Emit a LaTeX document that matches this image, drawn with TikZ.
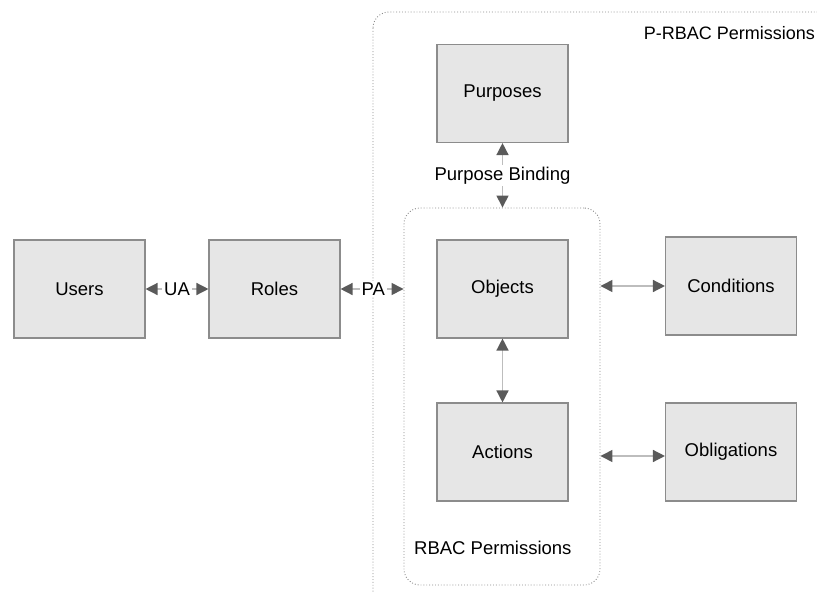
\documentclass[tikz,border=0pt]{standalone}
\usepackage{fontspec}
\setmainfont{Liberation Sans}
\usetikzlibrary{arrows.meta}
\definecolor{boxfill}{HTML}{E6E6E6}
\definecolor{boxline}{HTML}{8C8C8C}
\definecolor{headcol}{HTML}{5A5A5A}
\definecolor{shaftcol}{HTML}{BDBDBD}
\definecolor{frameline}{HTML}{8A8A8A}
\tikzset{
  entity/.style={draw=boxline, fill=boxfill, line width=1.1pt,
    minimum width=131pt, minimum height=98pt, inner sep=0pt,
    font=\fontsize{18.5}{22}\selectfont},
  frame/.style={draw=frameline, dotted, line width=0.9pt, rounded corners=16pt},
  link/.style={draw=shaftcol, line width=1.4pt,
    {Triangle[length=12pt,width=12pt,fill=headcol,color=headcol]}-{Triangle[length=12pt,width=12pt,fill=headcol,color=headcol]}},
  tag/.style={fill=white, inner sep=2pt, font=\fontsize{18.5}{22}\selectfont},
  caption/.style={font=\fontsize{18.5}{22}\selectfont, inner sep=0pt}
}
\begin{document}
\begin{tikzpicture}[x=1pt,y=-1pt]
\useasboundingbox (0,0) rectangle (817,592);
\clip (0,0) rectangle (817,592);

% outer P-RBAC frame (runs off the right and bottom edges)
\draw[frame] (373,12) rectangle (860,640);
\node[caption, anchor=east, font=\fontsize{18}{22}\selectfont] (prbac) at (815,33) {P-RBAC Permissions};

% inner RBAC frame
\node[frame, minimum width=196pt, minimum height=377pt, inner sep=0pt] (rbac) at (502,396.5) {};
\node[caption, anchor=west] (rbaclbl) at (414,548) {RBAC Permissions};

% entities
\node[entity] (users) at (79.5,289) {Users};
\node[entity] (roles) at (274.5,289) {Roles};
\node[entity] (purposes) at (502.5,93.5) {Purposes};
\node[entity] (objects) at (502.5,289) {Objects};
\node[entity] (actions) at (502.5,452) {Actions};
\node[entity] (conditions) at (731,286) {Conditions};
\node[entity] (obligations) at (731,452) {Obligations};

% relations
\draw[link] (users) -- node[tag] {UA} (roles);
\draw[link] (roles) -- node[tag, pos=0.52] {PA} (roles -| rbac.west);
\draw[link] (purposes) -- node[tag] {Purpose Binding} (purposes |- rbac.north);
\draw[link] (objects) -- (actions);
\draw[link] (conditions -| rbac.east) -- (conditions);
\draw[link] ([yshift=-4pt]obligations.west -| rbac.east) -- ([yshift=-4pt]obligations.west);
\end{tikzpicture}
\end{document}
